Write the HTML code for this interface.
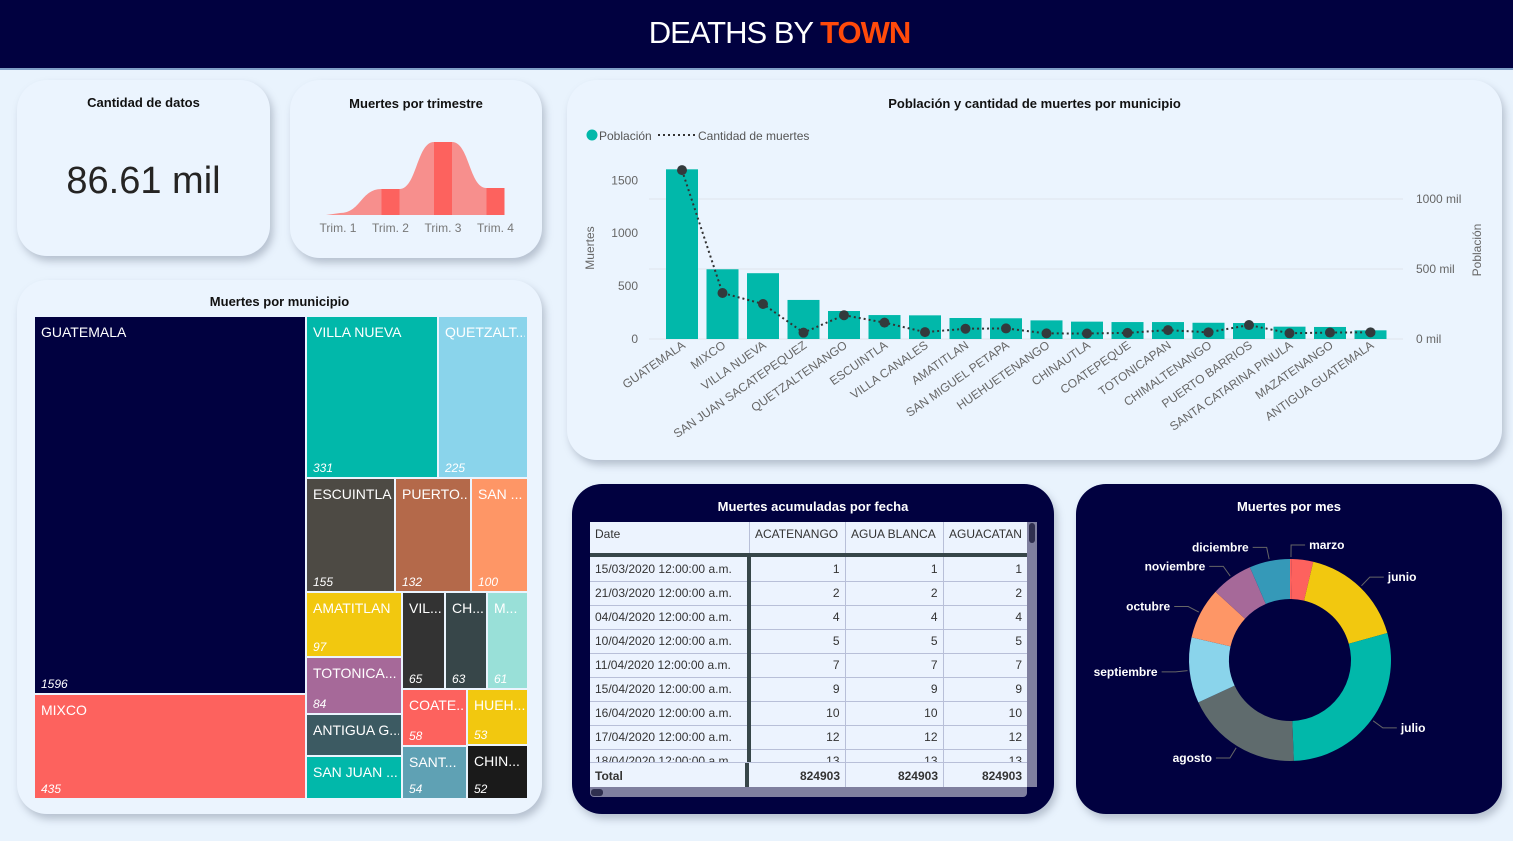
<!DOCTYPE html>
<html><head><meta charset="utf-8">
<style>
*{box-sizing:border-box;margin:0;padding:0}
body{width:1513px;height:841px;background:#e9f3fd;font-family:"Liberation Sans",sans-serif;position:relative;overflow:hidden}
.hdr{position:absolute;left:0;top:0;width:1513px;height:70px;background:#010140;border-bottom:2px solid #7f9fc6}
.hdr .t{position:absolute;left:0;width:1513px;top:15px;text-align:center;font-size:31px;color:#fff;letter-spacing:-1px;padding-left:46px}
.hdr .t b{color:#ff4a0a;font-weight:bold}
.card{position:absolute;border-radius:30px;background:#ebf4fe;box-shadow:3px 5px 8px rgba(120,130,150,.45)}
.dark{background:#010140}
.ttl{position:absolute;left:0;width:100%;text-align:center;font-size:13px;font-weight:bold;color:#111}
.dark .ttl{color:#fff}
.tm{position:absolute;overflow:hidden;color:#fff}
.tm .n{position:absolute;left:6px;top:7px;font-size:14px;white-space:nowrap;right:2px;overflow:hidden}
.tm .v{position:absolute;left:6px;bottom:2px;font-size:12px;font-style:italic}
table{border-collapse:collapse;font-size:12px;color:#333;table-layout:fixed}
td{height:24px;border-bottom:1px solid #b8bfd8;border-right:1px solid #b8bfd8;padding:0 5px;text-align:right;background:#ecf3fe;white-space:nowrap;overflow:hidden}
td.d{text-align:left;border-right:4px solid #374649}
</style></head><body>
<div class="hdr"><div class="t">DEATHS BY <b>TOWN</b></div></div>

<div class="card" style="left:17px;top:80px;width:253px;height:176px">
 <div class="ttl" style="top:15px">Cantidad de datos</div>
 <div style="position:absolute;left:0;width:100%;top:80px;text-align:center;font-size:38px;color:#252423">86.61 mil</div>
</div>
<div class="card" style="left:290px;top:80px;width:252px;height:178px">
 <div class="ttl" style="top:16px">Muertes por trimestre</div>
</div>
<div class="card" style="left:567px;top:80px;width:935px;height:380px">
 <div class="ttl" style="top:16px">Población y cantidad de muertes por municipio</div>
</div>
<div class="card" style="left:17px;top:280px;width:525px;height:534px">
 <div class="ttl" style="top:14px">Muertes por municipio</div>
</div>
<div class="card dark" style="left:572px;top:484px;width:482px;height:330px">
 <div class="ttl" style="top:15px">Muertes acumuladas por fecha</div>
</div>
<div class="card dark" style="left:1076px;top:484px;width:426px;height:330px">
 <div class="ttl" style="top:15px">Muertes por mes</div>
</div>

<div id="treemap"></div>

<div style="position:absolute;left:590px;top:522px;width:437px;height:265px;overflow:hidden;background:#ecf3fe">
 <div style="position:absolute;left:0;top:0;width:437px;height:35px;border-bottom:4px solid #374649;font-size:12px;color:#333;background:#ecf3fe">
  <div style="position:absolute;left:5px;top:5px">Date</div>
  <div style="position:absolute;left:159px;top:0;height:31px;border-left:1px solid #b8bfd8;padding:5px 0 0 5px;width:96px">ACATENANGO</div>
  <div style="position:absolute;left:255px;top:0;height:31px;border-left:1px solid #b8bfd8;padding:5px 0 0 5px;width:98px">AGUA BLANCA</div>
  <div style="position:absolute;left:353px;top:0;height:31px;border-left:1px solid #b8bfd8;padding:5px 0 0 5px;width:84px">AGUACATAN</div>
 </div>
 <table style="position:absolute;left:0;top:35px;width:437px" id="tbl">
  <colgroup><col style="width:159px"><col style="width:96px"><col style="width:98px"><col style="width:84px"></colgroup>
  <tbody id="tbody"></tbody>
 </table>
 <div style="position:absolute;left:0;top:240px;width:437px;height:25px;background:#ecf3fe;border-top:1px solid #b8bfd8;font-size:12px;font-weight:bold;color:#333">
  <div style="position:absolute;left:5px;top:6px">Total</div>
  <div style="position:absolute;left:155px;top:0;width:4px;height:25px;background:#374649"></div>
  <div style="position:absolute;left:159px;width:96px;top:6px;text-align:right;padding-right:5px">824903</div>
  <div style="position:absolute;left:255px;width:98px;top:0;height:25px;padding-top:6px;text-align:right;padding-right:5px;border-left:1px solid #b8bfd8">824903</div>
  <div style="position:absolute;left:353px;width:84px;top:0;height:25px;padding-top:6px;text-align:right;padding-right:5px;border-left:1px solid #b8bfd8">824903</div>
 </div>
</div>
<div style="position:absolute;left:1027px;top:522px;width:10px;height:265px;background:#7f7f9f"><div style="margin:1px 2px;height:20px;background:#2f2f4f;border-radius:3px"></div></div>
<div style="position:absolute;left:590px;top:787px;width:437px;height:10px;background:#7f7f9f;border-radius:0 0 4px 4px"><div style="margin:2px 1px;width:12px;height:7px;background:#2f2f4f;border-radius:3px"></div></div>

<svg id="svg" width="1513" height="841" style="position:absolute;left:0;top:0;pointer-events:none" font-family="Liberation Sans, sans-serif"></svg>

<script>
// ===== Data =====
const municipios=["GUATEMALA","MIXCO","VILLA NUEVA","SAN JUAN SACATEPEQUEZ","QUETZALTENANGO","ESCUINTLA","VILLA CANALES","AMATITLAN","SAN MIGUEL PETAPA","HUEHUETENANGO","CHINAUTLA","COATEPEQUE","TOTONICAPAN","CHIMALTENANGO","PUERTO BARRIOS","SANTA CATARINA PINULA","MAZATENANGO","ANTIGUA GUATEMALA"];
const poblacionMil=[1212,498,470,279,200,171,169,150,148,133,124,121,121,116,114,88,86,62];
const muertes=[1596,435,331,60,225,155,65,97,100,53,52,58,84,63,132,54,61,63];
const leftTicks=[0,500,1000,1500];
const rightTicks=[0,500,1000];

const trimestres=["Trim. 1","Trim. 2","Trim. 3","Trim. 4"];
const muertesTrim=[2,26,73,27];

const meses=["marzo","mayo","junio","julio","agosto","septiembre","octubre","noviembre","diciembre"];
const muertesMes=[0.3,3.4,17.0,28.7,18.7,10.5,8.2,6.7,6.5];
const mesLabelShown=[true,false,true,true,true,true,true,true,true];

const tmNames=["GUATEMALA","MIXCO","VILLA NUEVA","QUETZALT...","ESCUINTLA","PUERTO...","SAN ...","AMATITLAN","TOTONICA...","ANTIGUA G...","SAN JUAN ...","VIL...","CH...","M...","COATE...","SANT...","HUEH...","CHIN..."];
const tmValues=[1596,435,331,225,155,132,100,97,84,62,62,65,63,61,58,54,53,52];
const tmShowVal=[1,1,1,1,1,1,1,1,1,0,0,1,1,1,1,1,1,1];

const fechas=["15/03/2020 12:00:00 a.m.","21/03/2020 12:00:00 a.m.","04/04/2020 12:00:00 a.m.","10/04/2020 12:00:00 a.m.","11/04/2020 12:00:00 a.m.","15/04/2020 12:00:00 a.m.","16/04/2020 12:00:00 a.m.","17/04/2020 12:00:00 a.m.","18/04/2020 12:00:00 a.m."];
const acumulado=[1,2,4,5,7,9,10,12,13];

// ===== styles (not data) =====
const tmColors=["#010140","#fd625e","#01b8aa","#8ad4eb","#4d4a44","#b4694a","#fe9666","#f2c80f","#a66999","#3c5a62","#01b8aa","#333333","#374649","#99e0d8","#fd625e","#5fa1b4","#f2c80f","#1a1a1a"];
const mesColors=["#fd625e","#fd625e","#f2c80f","#01b8aa","#5f6b6d","#8ad4eb","#fe9666","#a66999","#3599b8"];

const svg=document.getElementById('svg');
const NS="http://www.w3.org/2000/svg";
function mk(tag,attrs,parent){const el=document.createElementNS(NS,tag);for(const k in attrs)el.setAttribute(k,attrs[k]);(parent||svg).appendChild(el);return el;}
let e;

// ===== Bar + line chart =====
const yL=v=>339-v*0.1058;
const yR=m=>339-m*0.14;
const xB=i=>682+i*40.5;
const bw=32;
rightTicks.forEach(t=>{
  if(t>0){const g=mk('line',{x1:649,x2:1403,y1:yR(t),y2:yR(t),stroke:'#dfe5ec','stroke-width':1});
  
  }
  const tx=mk('text',{x:1416,y:yR(t)+4,'font-size':12,fill:'#666'});tx.textContent=t+' mil';
  
  
});
leftTicks.forEach(t=>{
  const tx=mk('text',{x:638,y:yL(t)+4,'font-size':12,fill:'#666','text-anchor':'end'});tx.textContent=t;
  
  
});
mk('line',{x1:649,x2:1403,y1:339,y2:339,stroke:'#dfe5ec'});
municipios.forEach((m,i)=>{
  const r=mk('rect',{x:xB(i)-bw/2,y:yR(poblacionMil[i]),width:bw,height:339-yR(poblacionMil[i]),fill:'#01b8aa'});
  
  
  const t=mk('text',{x:xB(i)+4,y:347,'font-size':12,fill:'#666','text-anchor':'end',transform:`rotate(-35 ${xB(i)+4} 347)`});
  t.textContent=m;
  
  
});
const pts=muertes.map((v,i)=>xB(i)+','+yL(v)).join(' ');
const pl=mk('polyline',{points:pts,fill:'none',stroke:'#333','stroke-width':2,'stroke-dasharray':'2,3'});


muertes.forEach((v,i)=>{
  const c=mk('circle',{cx:xB(i),cy:yL(v),r:5,fill:'#333a3c'});
  
  
});
e=mk('circle',{cx:592,cy:135,r:5.5,fill:'#01b8aa'});


e=mk('text',{x:599,y:140,'font-size':12,fill:'#555'});e.textContent='Población';


e=mk('line',{x1:658,x2:696,y1:135,y2:135,stroke:'#333','stroke-width':2,'stroke-dasharray':'2,3'});


e=mk('text',{x:698,y:140,'font-size':12,fill:'#555'});e.textContent='Cantidad de muertes';


e=mk('text',{x:594,y:248,'font-size':12,fill:'#666','text-anchor':'middle',transform:'rotate(-90 594 248)'});e.textContent='Muertes';


e=mk('text',{x:1481,y:250,'font-size':12,fill:'#666','text-anchor':'middle',transform:'rotate(-90 1481 250)'});e.textContent='Población';



// ===== Quarter area chart =====
const qBase=215, qx=i=>338+i*52.5, qh=v=>qBase-v;
{
  const xs=muertesTrim.map((v,i)=>qx(i)), ys=muertesTrim.map(qh);
  let d=`M${xs[0]-12},${qBase} L${xs[0]+2},${ys[0]}`;
  for(let i=1;i<xs.length;i++){
    const x0=xs[i-1]+(i==1?2:9), x1=xs[i]-9;
    const mid=(x0+x1)/2;
    d+=` C${mid},${ys[i-1]} ${mid},${ys[i]} ${x1},${ys[i]} L${xs[i]+9},${ys[i]}`;
  }
  d+=` L${xs[3]+9},${qBase} Z`;
  e=mk('path',{d:d,fill:'#f78f8d'});
  
  
  for(let i=1;i<4;i++){
    const r=mk('rect',{x:xs[i]-9,y:ys[i],width:18,height:qBase-ys[i],fill:'#fd625e'});
    
    
  }
  trimestres.forEach((t,i)=>{
    const tx=mk('text',{x:qx(i),y:232,'font-size':12,fill:'#777','text-anchor':'middle'});tx.textContent=t;
    
    
  });
}

// ===== Treemap (nested slice layout driven by values) =====
const tmTree={d:'h',k:[{d:'v',k:[0,1]},{d:'v',k:[{d:'h',k:[2,3]},{d:'h',k:[4,5,6]},{d:'h',k:[{d:'v',k:[7,8,9,10]},{d:'v',k:[{d:'h',k:[11,12,13]},{d:'h',k:[{d:'v',k:[14,15]},{d:'v',k:[16,17]}]}]}]}]}]};
function tmSum(n){return typeof n==='number'?tmValues[n]:n.k.reduce((s,c)=>s+tmSum(c),0);}
const tmHost=document.getElementById('treemap');
function tmLayout(n,x,y,w,h){
  if(typeof n==='number'){
    const dv=document.createElement('div');
    dv.className='tm';
    dv.style.cssText=`left:${x}px;top:${y}px;width:${w}px;height:${h}px;background:${tmColors[n]}`;
    dv.innerHTML=`<div class="n">${tmNames[n]}</div>`+(tmShowVal[n]?`<div class="v">${tmValues[n]}</div>`:'');
    
    
    tmHost.appendChild(dv);return;
  }
  const sum=tmSum(n),gap=2,len=(n.d==='h'?w:h)-gap*(n.k.length-1);
  let pos=n.d==='h'?x:y;
  n.k.forEach((c,i)=>{
    const s=i===n.k.length-1?((n.d==='h'?x+w:y+h)-pos):Math.round(len*tmSum(c)/sum);
    if(n.d==='h')tmLayout(c,pos,y,s,h);else tmLayout(c,x,pos,w,s);
    pos+=s+gap;
  });
}
tmLayout(tmTree,35,317,492,481);

// ===== Table =====
const tb=document.getElementById('tbody');
fechas.forEach((f,i)=>{
  const tr=document.createElement('tr');
  tr.innerHTML=`<td class="d">${f}</td><td>${acumulado[i]}</td><td>${acumulado[i]}</td><td style="border-right:none">${acumulado[i]}</td>`;
  
  
  tb.appendChild(tr);
});

// ===== Donut =====
const dcx=1290,dcy=660,R=101,r0=61;
const mesTot=muertesMes.reduce((a,b)=>a+b,0);
let acc=0;
const pt=(a,rad)=>[dcx+rad*Math.sin(a),dcy-rad*Math.cos(a)];
muertesMes.forEach((v,i)=>{
  const a0=acc/mesTot*2*Math.PI; acc+=v; const a1=acc/mesTot*2*Math.PI;
  const lg=(a1-a0)>Math.PI?1:0;
  const [x0,y0]=pt(a0,R),[x1,y1]=pt(a1,R),[x2,y2]=pt(a1,r0),[x3,y3]=pt(a0,r0);
  const p=mk('path',{d:`M${x0},${y0} A${R},${R} 0 ${lg} 1 ${x1},${y1} L${x2},${y2} A${r0},${r0} 0 ${lg} 0 ${x3},${y3} Z`,fill:mesColors[i]});
  
  
  if(mesLabelShown[i]){
    const am=(a0+a1)/2;
    const [lx,ly]=pt(am,R+2),[mx,my]=pt(am,R+14);
    const right=Math.sin(am)>=0;
    const ex=mx+(right?14:-14);
    const ln=mk('polyline',{points:`${lx},${ly} ${mx},${my} ${ex},${my}`,fill:'none',stroke:'#666','stroke-width':1});
    
    
    const t=mk('text',{x:ex+(right?4:-4),y:my+4,'font-size':12,'font-weight':'bold',fill:'#fff','text-anchor':right?'start':'end'});
    t.textContent=meses[i];
    
    
  }
});
</script>
</body></html>
